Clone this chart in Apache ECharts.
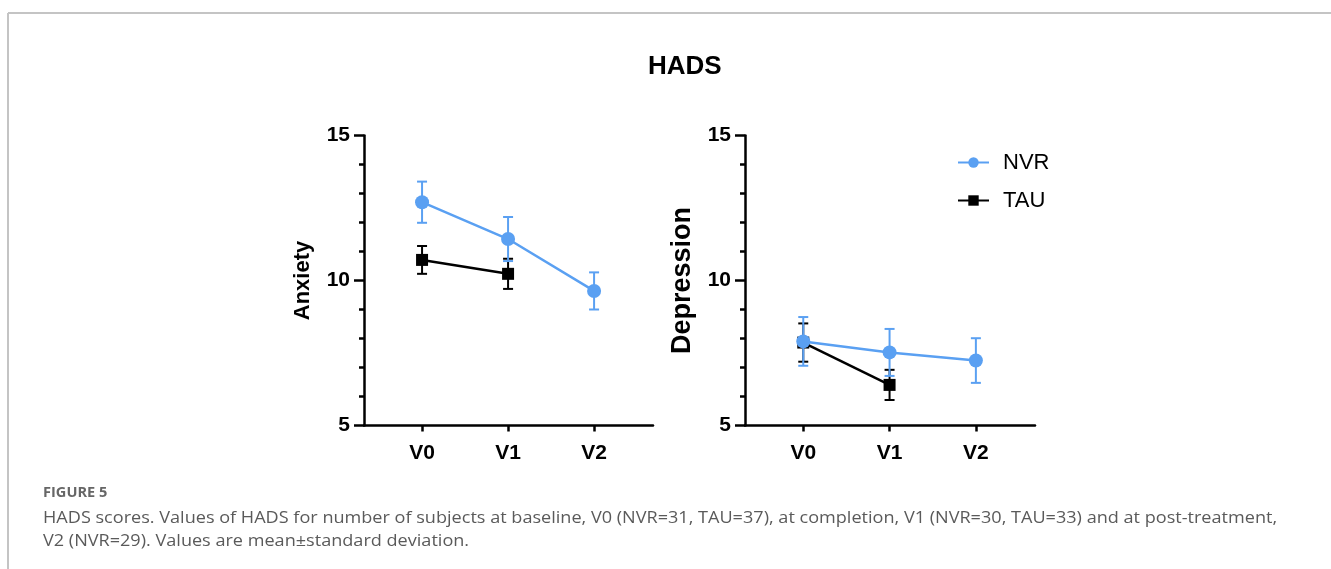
<!DOCTYPE html>
<html>
<head>
<meta charset="utf-8">
<script src="https://cdn.jsdelivr.net/npm/echarts@6/dist/echarts.min.js"></script>
<style>
  html, body { margin: 0; padding: 0; background: #fff; }
  #main { width: 1331px; height: 569px; }
</style>
</head>
<body>
<div id="main"></div>
<script>
var myChart = echarts.init(document.getElementById('main'));

// data (mean and standard deviation)
var visits = ['V0', 'V1', 'V2'];
var anxNvrMean = [12.70, 11.43, 9.64];
var anxNvrSd = [0.71, 0.76, 0.64];
var anxTauMean = [10.71, 10.23];
var anxTauSd = [0.48, 0.52];
var depNvrMean = [7.90, 7.52, 7.24];
var depNvrSd = [0.84, 0.81, 0.77];
var depTauMean = [7.86, 6.40];
var depTauSd = [0.66, 0.52];
var yTicks = [5, 10, 15];

var blue = '#5AA0F2';
var font = '"Liberation Sans", Arial, sans-serif';

var points = function (means) {
  return means.map(function (m, i) { return [i, m]; });
};
var bars = function (means, sds) {
  return means.map(function (m, i) { return [i, m, sds[i]]; });
};

var errorBar = function (name, idx, data, color, z) {
  return {
    name: name,
    type: 'custom',
    xAxisIndex: idx,
    yAxisIndex: idx,
    z: z,
    silent: true,
    data: data,
    renderItem: function (params, api) {
      var x = api.value(0), m = api.value(1), s = api.value(2);
      var top = api.coord([x, m + s]);
      var bot = api.coord([x, m - s]);
      var w = 5;
      var st = { stroke: color, lineWidth: 2 };
      return {
        type: 'group',
        children: [
          { type: 'line', shape: { x1: top[0], y1: top[1], x2: bot[0], y2: bot[1] }, style: st },
          { type: 'line', shape: { x1: top[0] - w, y1: top[1], x2: top[0] + w, y2: top[1] }, style: st },
          { type: 'line', shape: { x1: bot[0] - w, y1: bot[1], x2: bot[0] + w, y2: bot[1] }, style: st }
        ]
      };
    }
  };
};

var lineSeries = function (name, idx, data, color, symbol, size, z) {
  return {
    name: name,
    type: 'line',
    xAxisIndex: idx,
    yAxisIndex: idx,
    z: z,
    data: data,
    symbol: symbol,
    symbolSize: size,
    showAllSymbol: true,
    lineStyle: { color: color, width: 2.5 },
    itemStyle: { color: color },
    emphasis: { disabled: true }
  };
};

var xAxisOf = function (idx) {
  return {
    type: 'value',
    gridIndex: idx,
    min: -0.675,
    max: 2.685,
    splitLine: { show: false },
    axisLine: { onZero: false, lineStyle: { color: '#000', width: 2.5 } },
    axisTick: { customValues: [0, 1, 2], length: 6, lineStyle: { color: '#000', width: 2.5 } },
    axisLabel: {
      customValues: [0, 1, 2],
      formatter: function (v) { return visits[Math.round(v)]; },
      color: '#000', fontSize: 21, fontWeight: 'bold', fontFamily: font, margin: 17
    }
  };
};

var yAxisOf = function (idx, name, nameSize, gap) {
  return {
    type: 'value',
    gridIndex: idx,
    min: yTicks[0],
    max: yTicks[yTicks.length - 1],
    interval: 5,
    name: name,
    nameLocation: 'middle',
    nameGap: gap,
    nameTextStyle: { color: '#000', fontSize: nameSize, fontWeight: 'bold', fontFamily: font },
    splitLine: { show: false },
    axisLine: { onZero: false, lineStyle: { color: '#000', width: 2.5 } },
    axisTick: { length: 10, lineStyle: { color: '#000', width: 2.5 } },
    minorTick: { show: true, splitNumber: 5, length: 5, lineStyle: { color: '#000', width: 2.5 } },
    axisLabel: { color: '#000', fontSize: 21, fontWeight: 'bold', fontFamily: font, margin: 14 }
  };
};

option = {
  animation: false,
  title: {
    text: 'HADS',
    left: 643,
    top: 49,
    textStyle: { color: '#000', fontSize: 26, fontWeight: 'bold', fontFamily: font }
  },
  legend: {
    data: ['NVR', 'TAU'],
    orient: 'vertical',
    left: 952,
    top: 146.5,
    itemWidth: 31,
    itemHeight: 13,
    itemGap: 16,
    selectedMode: false,
    textStyle: { color: '#000', fontSize: 22, fontFamily: font, padding: [0, 0, 0, 9] }
  },
  grid: [
    { left: 364, top: 135.5, width: 289, height: 290 },
    { left: 745, top: 135.5, width: 290, height: 290 }
  ],
  xAxis: [xAxisOf(0), xAxisOf(1)],
  yAxis: [yAxisOf(0, 'Anxiety', 22, 50), yAxisOf(1, 'Depression', 27, 49)],
  graphic: [
    { type: 'line', shape: { x1: 8, y1: 13, x2: 1331, y2: 13 }, style: { stroke: '#c4c4c4', lineWidth: 2 } },
    { type: 'line', shape: { x1: 8, y1: 13, x2: 8, y2: 569 }, style: { stroke: '#c4c4c4', lineWidth: 2 } },
    {
      type: 'text', x: 43, y: 486, scaleX: 1.08,
      style: { text: 'FIGURE 5', fill: '#666', font: 'bold 13.5px "Open Sans", sans-serif' }
    },
    {
      type: 'text', x: 43, y: 507, scaleX: 1.13,
      style: {
        text: 'HADS scores. Values of HADS for number of subjects at baseline, V0 (NVR=31, TAU=37), at completion, V1 (NVR=30, TAU=33) and at post-treatment,\nV2 (NVR=29). Values are mean\u00B1standard deviation.',
        fill: '#5a5a5a', font: '16px "Open Sans", sans-serif', lineHeight: 23
      }
    }
  ],
  series: [
    errorBar('anxTauErr', 0, bars(anxTauMean, anxTauSd), '#000', 2),
    lineSeries('TAU', 0, points(anxTauMean), '#000', 'rect', 12, 3),
    errorBar('anxNvrErr', 0, bars(anxNvrMean, anxNvrSd), blue, 4),
    lineSeries('NVR', 0, points(anxNvrMean), blue, 'circle', 14, 5),
    errorBar('depTauErr', 1, bars(depTauMean, depTauSd), '#000', 2),
    lineSeries('TAU', 1, points(depTauMean), '#000', 'rect', 12, 3),
    errorBar('depNvrErr', 1, bars(depNvrMean, depNvrSd), blue, 4),
    lineSeries('NVR', 1, points(depNvrMean), blue, 'circle', 14, 5)
  ]
};

myChart.setOption(option);
</script>
</body>
</html>
